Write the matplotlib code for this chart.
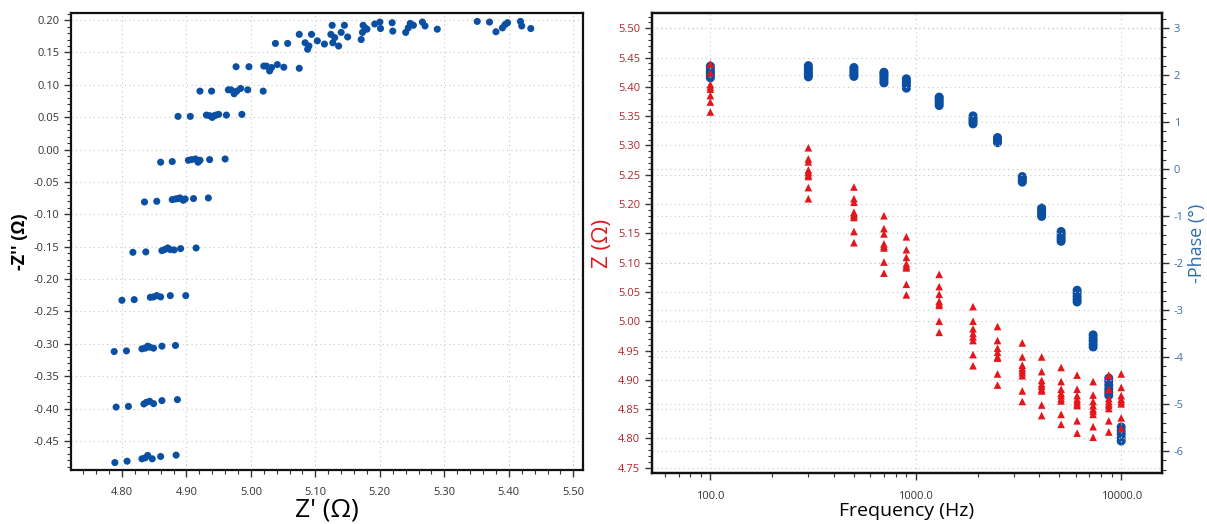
import matplotlib
matplotlib.use("Agg")
import matplotlib.pyplot as plt
from matplotlib.ticker import MultipleLocator, FormatStrFormatter, FixedLocator, LogLocator, NullFormatter

# ---- Nyquist data: Z' and -Z'' (Ohm) ----
z_real = [
    4.789, 4.808, 4.831, 4.836, 4.840, 4.847, 4.860, 4.884,
    4.791, 4.810, 4.834, 4.838, 4.843, 4.849, 4.862, 4.886,
    4.788, 4.807, 4.831, 4.836, 4.840, 4.843, 4.849, 4.862, 4.883,
    4.800, 4.819, 4.844, 4.849, 4.854, 4.860, 4.875, 4.899,
    4.817, 4.837, 4.862, 4.866, 4.871, 4.875, 4.881, 4.891, 4.915,
    4.835, 4.854, 4.878, 4.883, 4.887, 4.890, 4.895, 4.898, 4.911, 4.934,
    4.860, 4.878, 4.903, 4.908, 4.914, 4.918, 4.921, 4.936, 4.960,
    4.887, 4.906, 4.931, 4.936, 4.940, 4.943, 4.946, 4.950, 4.962, 4.986,
    4.921, 4.939, 4.965, 4.969, 4.974, 4.978, 4.984, 4.995, 5.019,
    4.977, 4.997, 5.020, 5.024, 5.029, 5.032, 5.041, 5.051, 5.075,
    5.038, 5.057, 5.075, 5.084, 5.088, 5.094, 5.090, 5.103, 5.114, 5.124,
    5.126, 5.127, 5.130, 5.136, 5.140, 5.145, 5.150,
    5.171, 5.173, 5.174, 5.177, 5.180, 5.192, 5.200, 5.201, 5.219, 5.220,
    5.240, 5.244, 5.247, 5.252, 5.266, 5.270, 5.289,
    5.351, 5.370, 5.380, 5.390, 5.394, 5.398, 5.418, 5.420, 5.434,
]
z_imag_neg = [
    -0.4835, -0.4814, -0.4777, -0.4762, -0.4725, -0.4777, -0.4741, -0.4720,
    -0.3978, -0.3967, -0.3930, -0.3904, -0.3889, -0.3925, -0.3878, -0.3863,
    -0.3120, -0.3110, -0.3078, -0.3068, -0.3037, -0.3052, -0.3068, -0.3037, -0.3026,
    -0.2328, -0.2318, -0.2282, -0.2276, -0.2256, -0.2276, -0.2256, -0.2256,
    -0.1587, -0.1581, -0.1561, -0.1545, -0.1520, -0.1545, -0.1550, -0.1530, -0.1520,
    -0.0809, -0.0799, -0.0773, -0.0763, -0.0757, -0.0747, -0.0783, -0.0763, -0.0757, -0.0747,
    -0.0195, -0.0185, -0.0165, -0.0155, -0.0145, -0.0195, -0.0165, -0.0155, -0.0145,
    0.0513, 0.0513, 0.0533, 0.0523, 0.0497, 0.0523, 0.0533, 0.0544, 0.0533, 0.0544,
    0.0903, 0.0903, 0.0923, 0.0923, 0.0862, 0.0903, 0.0944, 0.0923, 0.0903,
    0.1280, 0.1280, 0.1290, 0.1290, 0.1215, 0.1267, 0.1313, 0.1272, 0.1256,
    0.164, 0.164, 0.178, 0.165, 0.155, 0.178, 0.160, 0.168, 0.163, 0.178,
    0.192, 0.165, 0.173, 0.160, 0.181, 0.192, 0.174,
    0.170, 0.181, 0.192, 0.188, 0.186, 0.194, 0.197, 0.187, 0.196, 0.183,
    0.181, 0.188, 0.195, 0.192, 0.197, 0.191, 0.186,
    0.198, 0.197, 0.182, 0.188, 0.193, 0.196, 0.198, 0.191, 0.187,
]

# ---- Bode data: frequency (Hz), |Z| (Ohm) and -phase (deg) ----
freqs = [100, 300, 500, 700, 900, 1300, 1900, 2500, 3300, 4100, 5100, 6100, 7300, 8700, 10000]
z_mag = [
    [5.439, 5.424, 5.404, 5.400, 5.396, 5.385, 5.374, 5.357],
    [5.296, 5.277, 5.272, 5.258, 5.254, 5.250, 5.247, 5.228, 5.209],
    [5.229, 5.209, 5.203, 5.186, 5.183, 5.180, 5.177, 5.153, 5.134],
    [5.180, 5.158, 5.149, 5.132, 5.128, 5.125, 5.101, 5.082],
    [5.144, 5.122, 5.109, 5.098, 5.094, 5.091, 5.063, 5.045],
    [5.080, 5.059, 5.046, 5.034, 5.030, 5.027, 5.000, 4.981],
    [5.025, 5.000, 4.987, 4.979, 4.973, 4.967, 4.943, 4.924],
    [4.991, 4.967, 4.954, 4.947, 4.939, 4.937, 4.910, 4.891],
    [4.963, 4.939, 4.925, 4.920, 4.916, 4.912, 4.907, 4.881, 4.863],
    [4.939, 4.914, 4.899, 4.893, 4.889, 4.884, 4.881, 4.857, 4.839],
    [4.921, 4.897, 4.884, 4.877, 4.873, 4.868, 4.864, 4.841, 4.824],
    [4.908, 4.884, 4.873, 4.867, 4.863, 4.859, 4.856, 4.830, 4.809],
    [4.897, 4.874, 4.863, 4.856, 4.850, 4.846, 4.841, 4.820, 4.802],
    [4.908, 4.884, 4.868, 4.863, 4.859, 4.856, 4.851, 4.830, 4.811],
    [4.910, 4.887, 4.873, 4.867, 4.863, 4.859, 4.835, 4.817],
]
phase = [
    [1.94, 1.99, 2.04, 2.08, 2.13, 2.19],
    [1.96, 2.01, 2.05, 2.10, 2.15, 2.20],
    [1.97, 2.01, 2.06, 2.11, 2.16],
    [1.83, 1.88, 1.93, 1.98, 2.03, 2.06],
    [1.72, 1.77, 1.82, 1.87, 1.92],
    [1.35, 1.40, 1.45, 1.50, 1.53],
    [0.96, 1.01, 1.05, 1.10, 1.13],
    [0.56, 0.60, 0.64, 0.67],
    [-0.28, -0.24, -0.20, -0.16],
    [-1.01, -0.96, -0.91, -0.86, -0.83],
    [-1.54, -1.49, -1.44, -1.38, -1.33],
    [-2.83, -2.77, -2.71, -2.64, -2.58],
    [-3.79, -3.73, -3.66, -3.60, -3.53],
    [-4.82, -4.75, -4.68, -4.60, -4.52, -4.45],
    [-5.79, -5.72, -5.64, -5.57, -5.49],
]

BLUE = "#0b4fa3"
RED = "#e3161c"
FONT = ["Open Sans", "DejaVu Sans"]
plt.rcParams["font.family"] = FONT

W, H = 1207, 524
fig = plt.figure(figsize=(W / 100, H / 100), dpi=100)

grid_kw = dict(color="#c8c8c8", linestyle=(0, (1, 3)), linewidth=0.8)


def px_axes(left, top, right, bottom):
    return [left / W, 1 - bottom / H, (right - left) / W, (bottom - top) / H]


def style_ticks(ax, axis="both", color="#333333", size=8, pad=3.5):
    ax.tick_params(axis=axis, which="major", direction="out", length=5, width=1.0,
                   labelsize=size, labelcolor=color, color="#333333", pad=pad)
    ax.tick_params(axis=axis, which="minor", direction="out", length=3, width=0.8, color="#333333")


# ---------------- Nyquist plot ----------------
ax1 = fig.add_axes(px_axes(71, 13, 583, 470))
ax1.scatter(z_real, z_imag_neg, s=26, color=BLUE, edgecolors="none", zorder=3)
ax1.set_xlim(4.721, 5.515)
ax1.set_ylim(-0.495, 0.211)
ax1.xaxis.set_major_locator(MultipleLocator(0.1))
ax1.xaxis.set_minor_locator(MultipleLocator(0.02))
ax1.yaxis.set_major_locator(MultipleLocator(0.05))
ax1.yaxis.set_minor_locator(MultipleLocator(0.01))
ax1.xaxis.set_major_formatter(FormatStrFormatter("%.2f"))
ax1.yaxis.set_major_formatter(FormatStrFormatter("%.2f"))
ax1.grid(True, which="major", **grid_kw)
ax1.set_axisbelow(True)
style_ticks(ax1, axis="x", pad=7)
style_ticks(ax1, axis="y")
for sp in ax1.spines.values():
    sp.set_linewidth(1.6)
    sp.set_color("#111111")
ax1.set_xlabel("Z' (Ω)", fontsize=19, labelpad=0)
ax1.set_ylabel("-Z'' (Ω)", fontsize=13, fontweight="bold", labelpad=3)

# ---------------- Bode plot ----------------
ax2 = fig.add_axes(px_axes(652, 13, 1162, 473))
ax3 = ax2.twinx()
for f, vals in zip(freqs, phase):
    ax3.scatter([f] * len(vals), vals, s=42, color=BLUE, edgecolors="none", zorder=3)
for f, vals in zip(freqs, z_mag):
    ax2.scatter([f] * len(vals), vals, s=30, marker="^", color=RED, edgecolors="none", zorder=4)

ax2.set_zorder(ax3.get_zorder() + 1)
ax2.patch.set_visible(False)

ax2.set_xscale("log")
ax2.set_xlim(52, 15800)
ax2.set_ylim(4.741, 5.526)
ax3.set_ylim(-6.47, 3.32)

ax2.xaxis.set_major_locator(FixedLocator([100, 1000, 10000]))
ax2.xaxis.set_major_formatter(FormatStrFormatter("%.1f"))
ax2.xaxis.set_minor_locator(LogLocator(base=10, subs=range(2, 10)))
ax2.xaxis.set_minor_formatter(NullFormatter())
ax2.yaxis.set_major_locator(MultipleLocator(0.05))
ax2.yaxis.set_minor_locator(MultipleLocator(0.01))
ax2.yaxis.set_major_formatter(FormatStrFormatter("%.2f"))
ax3.yaxis.set_major_locator(MultipleLocator(1))
ax3.yaxis.set_minor_locator(MultipleLocator(0.2))
ax3.yaxis.set_major_formatter(FormatStrFormatter("%d"))

ax2.grid(True, which="major", **grid_kw)
ax3.grid(True, which="major", axis="y", **grid_kw)
ax3.set_axisbelow(True)
style_ticks(ax2, axis="x", pad=8)
style_ticks(ax2, axis="y", color="#b0272d")
style_ticks(ax3, axis="y", color="#3d6fa6")
for a in (ax2, ax3):
    for sp in a.spines.values():
        sp.set_linewidth(1.6)
        sp.set_color("#111111")

ax2.set_xlabel("Frequency (Hz)", fontsize=14, labelpad=0)
ax2.set_ylabel("Z (Ω)", fontsize=16, color=RED, labelpad=4)
ax3.set_ylabel("-Phase (°)", fontsize=13, color="#2b6db3", labelpad=3)

fig.savefig("out.png", dpi=100)
